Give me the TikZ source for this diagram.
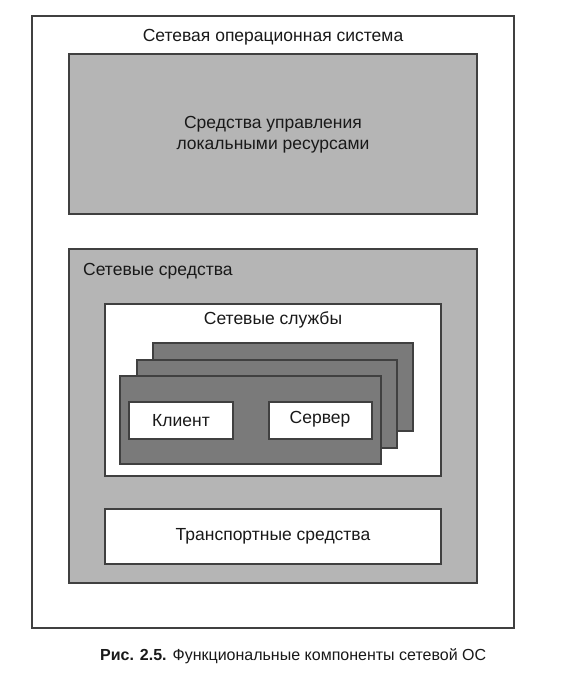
\documentclass[tikz,border=0pt]{standalone}
\usepackage{fontspec}
\setmainfont{Liberation Sans}
\begin{document}
\begin{tikzpicture}[x=1pt,y=-1pt,
  frame/.style={draw=black!75,line width=1.1pt},
  lightbox/.style={frame,fill=black!29},
  darkbox/.style={frame,fill=black!52},
  whitebox/.style={frame,fill=white},
  lbl/.style={font=\fontsize{17.5}{21}\selectfont,text=black!90,inner sep=0pt},
  captiontext/.style={font=\fontsize{16}{19}\selectfont,text=black!90,inner sep=0pt}]
\useasboundingbox (0,0) rectangle (583,686);
\fill[white] (0,0) rectangle (583,686);
% operating system frame
\draw[frame] (32,16) rectangle (514,628);
\node[lbl] (os) at (273,37) {Сетевая операционная система};
% local resource management
\draw[lightbox] (69,54) rectangle (477,214);
\node[lbl,align=center] (local) at (273,135) {Средства управления\\локальными ресурсами};
% network facilities
\draw[lightbox] (69,249) rectangle (477,583);
\node[lbl,anchor=west] (net) at (83,271) {Сетевые средства};
% network services
\draw[whitebox] (105,304) rectangle (441,476);
\node[lbl] (svc) at (273,320) {Сетевые службы};
\draw[darkbox] (153,343) rectangle (413,431);
\draw[darkbox] (137,360) rectangle (397,448);
\draw[darkbox] (120,376) rectangle (381,464);
\draw[whitebox] (129,402) rectangle (233,439);
\node[lbl] (client) at (181,421) {Клиент};
\draw[whitebox] (269,402) rectangle (372,439);
\node[lbl] (server) at (320,419) {Сервер};
% transport
\draw[whitebox] (105,509) rectangle (441,564);
\node[lbl] (transport) at (273,536) {Транспортные средства};
% caption
\node[captiontext,anchor=west] (caption) at (100,656) {\textbf{Рис. 2.5.} Функциональные компоненты сетевой ОС};
\end{tikzpicture}
\end{document}
